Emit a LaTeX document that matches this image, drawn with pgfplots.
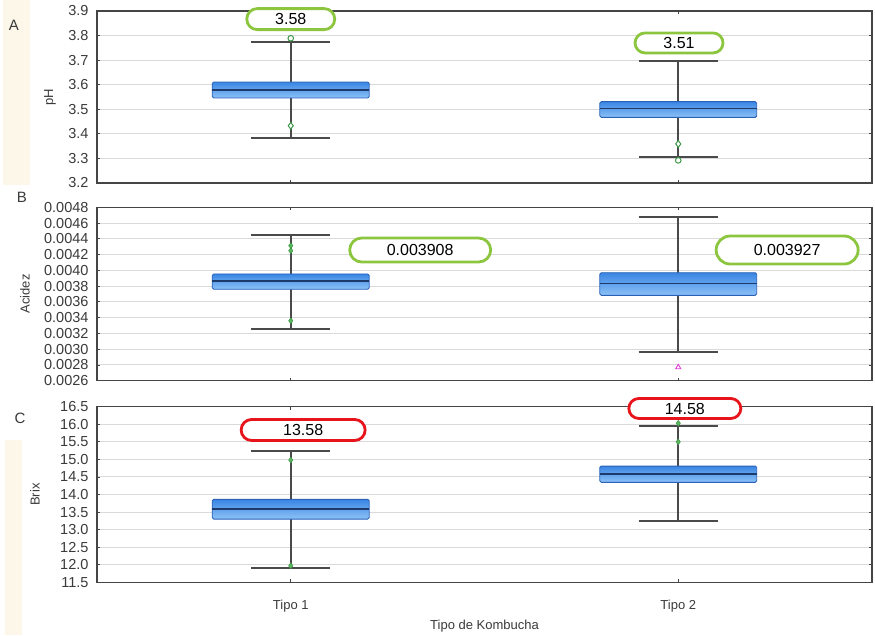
\documentclass[border=0pt]{standalone}
\usepackage{fontspec}
\setmainfont{Liberation Sans}
\usepackage{pgfplots}
\pgfplotsset{compat=1.18}
\usetikzlibrary{shapes.misc}
\definecolor{boxtop}{HTML}{3A86E4}
\definecolor{boxbot}{HTML}{8CC1F6}
\definecolor{boxdraw}{HTML}{2A62B8}
\definecolor{medc}{HTML}{1C3A6A}
\definecolor{whisc}{HTML}{4A4A4A}
\definecolor{axisc}{HTML}{454545}
\definecolor{gridc}{HTML}{DADADA}
\definecolor{tickc}{HTML}{3A3A3A}
\definecolor{outc}{HTML}{3E9A48}
\definecolor{outf}{HTML}{5DB85F}
\definecolor{magc}{HTML}{E040D8}
\definecolor{lgreen}{HTML}{8CC63F}
\definecolor{lred}{HTML}{E8141B}
\definecolor{beige}{HTML}{FDF7EA}
\tikzset{lab/.style={draw=#1, line width=2.8pt, fill=white, rounded rectangle, inner sep=0pt, font=\fontsize{16}{16}\selectfont}}
\pgfplotsset{
  panel/.style={
    scale only axis, width=775pt,
    xmin=0.5, xmax=2.5, xtick={1,2}, xticklabels={},
    axis line style={draw=axisc, line width=1.2pt},
    ymajorgrids, grid style={gridc, line width=1pt},
    tick style={draw=axisc, line width=0.8pt},
    major tick length=3pt, tick align=inside,
    yticklabel style={font=\fontsize{14.5}{15}\selectfont, text=tickc, xshift=-5pt},
    xticklabel style={font=\fontsize{13}{13}\selectfont, text=tickc},
    ylabel style={font=\fontsize{13}{13}\selectfont, text=tickc, anchor=center},
    xlabel style={font=\fontsize{13}{13}\selectfont, text=tickc, anchor=center},
    /pgf/number format/assume math mode=true,
    clip=false,
  },
  outfill/.style={only marks, mark=diamond*, mark size=2.8pt, draw=outc, fill=outf, line width=0.6pt},
}
% box-and-whisker from five numbers: #1 position, #2 lower whisker, #3 lower quartile, #4 median, #5 upper quartile, #6 upper whisker
\newcommand\bxp[6]{%
  \pgfmathsetmacro\xl{#1-0.2025}\pgfmathsetmacro\xr{#1+0.2025}%
  \pgfmathsetmacro\cl{#1-0.1025}\pgfmathsetmacro\cr{#1+0.1025}%
  \addplot[draw=whisc, line width=1.8pt] coordinates {(#1,#2) (#1,#3)};
  \addplot[draw=whisc, line width=1.8pt] coordinates {(#1,#5) (#1,#6)};
  \addplot[draw=whisc, line width=2.2pt] coordinates {(\cl,#2) (\cr,#2)};
  \addplot[draw=whisc, line width=2.2pt] coordinates {(\cl,#6) (\cr,#6)};
  \addplot[draw=boxdraw, line width=0.9pt, top color=boxtop, bottom color=boxbot, rounded corners=1.5pt] coordinates {(\xl,#3) (\xr,#3) (\xr,#5) (\xl,#5)} -- cycle;
  \addplot[draw=medc, line width=1.6pt] coordinates {(\xl,#4) (\xr,#4)};
}
\begin{document}
\begin{tikzpicture}
\useasboundingbox (0,0) rectangle (875pt,635pt);
\fill[beige] (3pt,450pt) rectangle (30pt,635pt);
\fill[beige] (5pt,0pt) rectangle (22pt,195pt);
\node[font=\fontsize{15}{15}\selectfont, text=tickc] at (14pt,610pt) {A};
\node[font=\fontsize{15}{15}\selectfont, text=tickc] at (22pt,438pt) {B};
\node[font=\fontsize{15}{15}\selectfont, text=tickc] at (20pt,217pt) {C};

% Panel A
\begin{axis}[panel, at={(97pt,452pt)}, anchor=south west, height=172pt,
  ymin=3.2, ymax=3.9, ytick={3.2,3.3,3.4,3.5,3.6,3.7,3.8,3.9},
  yticklabel style={/pgf/number format/fixed, /pgf/number format/precision=1, /pgf/number format/fixed zerofill},
  ylabel={pH}, ylabel style={at={(axis description cs:-0.0606,0.5)}}]
\bxp{1}{3.384}{3.546}{3.578}{3.611}{3.773}
\bxp{2}{3.307}{3.467}{3.503}{3.531}{3.695}
\addplot[only marks, mark=*, mark size=2.8pt, draw=outc, fill=white, line width=1pt] coordinates {(1,3.789) (2,3.292)};
\addplot[only marks, mark=diamond*, mark size=3.4pt, draw=outc, fill=white, line width=1pt] coordinates {(1,3.433) (2,3.359)};
\node[lab=lgreen, minimum width=88pt, minimum height=21pt] at (axis cs:1.0,3.867) {3.58};
\node[lab=lgreen, minimum width=88pt, minimum height=20pt] at (axis cs:2.002,3.770) {3.51};
\end{axis}

% Panel B (values in units of 0.001)
\begin{axis}[panel, at={(97pt,254.3pt)}, anchor=south west, height=173.4pt,
  ymin=2.6, ymax=4.8,
  ytick={2.6,2.8,3.0,3.2,3.4,3.6,3.8,4.0,4.2,4.4,4.6,4.8},
  yticklabels={0.0026,0.0028,0.0030,0.0032,0.0034,0.0036,0.0038,0.0040,0.0042,0.0044,0.0046,0.0048},
  ylabel={Acidez}, ylabel style={at={(axis description cs:-0.093,0.5)}}]
\bxp{1}{3.26}{3.76}{3.865}{3.954}{4.452}
\bxp{2}{2.96}{3.683}{3.835}{3.97}{4.681}
\addplot[outfill] coordinates {(1,4.313) (1,4.25) (1,3.361)};
\addplot[only marks, mark=triangle*, mark size=3pt, draw=magc, fill=white, line width=0.9pt] coordinates {(2,2.77)};
\node[lab=lgreen, minimum width=141pt, minimum height=24pt] at (axis cs:1.334,4.258) {0.003908};
\node[lab=lgreen, minimum width=142pt, minimum height=28pt] at (axis cs:2.281,4.258) {0.003927};
\end{axis}

% Panel C
\begin{axis}[panel, at={(97pt,52.7pt)}, anchor=south west, height=175.6pt,
  ymin=11.5, ymax=16.5, ytick={11.5,12,12.5,13,13.5,14,14.5,15,15.5,16,16.5},
  yticklabel style={/pgf/number format/fixed, /pgf/number format/precision=1, /pgf/number format/fixed zerofill},
  xticklabels={Tipo 1,Tipo 2}, xticklabel style={yshift=-14pt},
  xlabel={Tipo de Kombucha}, xlabel style={at={(axis description cs:0.5,-0.25)}},
  ylabel={Brix}, ylabel style={at={(axis description cs:-0.08,0.5)}}]
\bxp{1}{11.916}{13.30}{13.587}{13.863}{15.247}
\bxp{2}{13.236}{14.347}{14.584}{14.81}{15.96}
\addplot[outfill] coordinates {(1,14.98) (1,11.97) (2,16.03) (2,15.5)};
\node[lab=lred, minimum width=124pt, minimum height=21pt] at (axis cs:1.032,15.837) {13.58};
\node[lab=lred, minimum width=112pt, minimum height=20pt] at (axis cs:2.017,16.449) {14.58};
\end{axis}
\end{tikzpicture}
\end{document}
